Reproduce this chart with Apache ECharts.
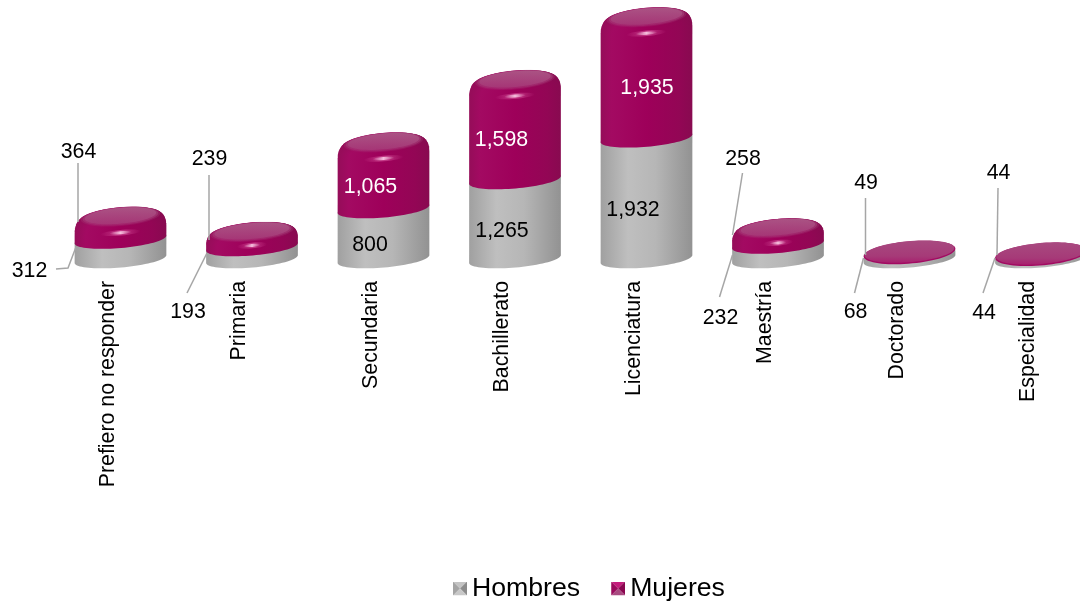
<!DOCTYPE html>
<html><head><meta charset="utf-8">
<style>html,body{margin:0;padding:0;background:#fff}#c{width:1080px;height:604px}</style>
<script src="https://cdn.jsdelivr.net/npm/echarts@6/dist/echarts.min.js"></script>
</head><body><div id="c"></div>
<script>
const categories = ['Prefiero no responder','Primaria','Secundaria','Bachillerato','Licenciatura','Maestría','Doctorado','Especialidad'];
const hombres = [312,193,800,1265,1932,232,68,44];
const mujeres = [364,239,1065,1598,1935,258,49,44];
const seriesNames = ['Hombres','Mujeres'];

// Label placement, in pixels from the foot of each cylinder: text offset, then leader line.
const hombresLabels = [
  {t:[-92,14],l:[[-64.5,13],[-52.5,12],[-44.5,-9]]},
  {t:[-65,55],l:[[-65,37],[-45,-3]]},
  {t:[-14.5,-12]},
  {t:[-14,-26]},
  {t:[-14.5,-47]},
  {t:[-58.5,61],l:[[-58.5,41],[-45.5,-1]]},
  {t:[-55,55],l:[[-55,37],[-46,2]]},
  {t:[-58,56],l:[[-58,37],[-46,2]]}
];
const mujeresLabels = [
  {t:[-43,-105],l:[[-42.5,-93],[-42.5,-34]]},
  {t:[-43.5,-98],l:[[-43,-81],[-43,-16]]},
  {t:[-14,-70]},
  {t:[-14.5,-117]},
  {t:[-0.5,-169]},
  {t:[-36,-98],l:[[-35.5,-83],[-45.5,-21]]},
  {t:[-44.5,-74],l:[[-44,-58],[-44,-1]]},
  {t:[-43.5,-84],l:[[-43,-68],[-44,-1]]}
];

const DEPTH_X = 12.5;         // cylinders stand right of the axis tick
const LABEL_DY = -3;          // label table origin relative to the axis foot
const TILT = 5*Math.PI/180;
const RY = 8.5, RY_CAP = 9.5, RY_FLAT = 11.5;
const fmt = v => v.toLocaleString('en-US');

function ell(cx,cy,a,b,from,to,n){
  const pts=[];
  for(let k=0;k<=n;k++){
    const t=from+(to-from)*k/n;
    const ex=a*Math.cos(t), ey=b*Math.sin(t);
    pts.push([cx+ex*Math.cos(TILT)+ey*Math.sin(TILT), cy-ex*Math.sin(TILT)+ey*Math.cos(TILT)]);
  }
  return pts;
}
function hGrad(stops){return {type:'linear',x:0,y:0,x2:1,y2:0,colorStops:stops.map(s=>({offset:s[0],color:s[1]}))};}
const graySide = hGrad([[0,'#a0a0a0'],[0.3,'#bfbfbf'],[0.6,'#b6b6b6'],[1,'#929292']]);
const magSide = hGrad([[0,'#950d59'],[0.12,'#a30a62'],[0.5,'#9e005a'],[0.85,'#930655'],[1,'#880a50']]);

function polyEl(points,fill,opacity){return {type:'polygon',shape:{points},style:{fill,stroke:null,opacity:opacity==null?1:opacity},silent:true};}

function cylinder(isTop){
  return function(params,api){
    const i=api.value(0), s=api.value(1), e=api.value(2);
    const bot=api.coord([i,s]), top=api.coord([i,e]), foot=api.coord([i,0]);
    const a=api.size([1,0])[0]*0.35;
    const cx=bot[0]+DEPTH_X, yb=bot[1], yt=top[1];
    const h=yb-yt;
    const kids=[];
    if(!isTop){
      kids.push(polyEl(ell(cx,yb,a,RY,0,Math.PI,40).concat(ell(cx,yt,a,RY,Math.PI,2*Math.PI,40)),graySide));
    }else if(h<10){
      kids.push(polyEl(ell(cx,yt+0.8,a,RY_FLAT-0.4,0,2*Math.PI,70),'#a20a62'));
      kids.push(polyEl(ell(cx,yt,a-1,RY_FLAT-1,0,2*Math.PI,70),
        {type:'linear',x:0,y:0,x2:0,y2:1,colorStops:[{offset:0,color:'#a84a80'},{offset:0.7,color:'#a63a78'},{offset:1,color:'#a8206e'}]}));
    }else{
      const bevel=Math.min(12,h*0.6), inset=bevel*0.6;
      const shaft=yt+bevel;
      kids.push(polyEl(ell(cx,yb,a,RY,0,Math.PI,40).concat(ell(cx,shaft,a,RY_CAP,Math.PI,2*Math.PI,40)),magSide));
      const steps=12;
      for(let k=1;k<=steps;k++){
        const ang=k/steps*Math.PI/2;
        kids.push(polyEl(ell(cx,shaft-bevel*Math.sin(ang),a-inset*(1-Math.cos(ang)),RY_CAP,0,2*Math.PI,60),magSide));
      }
      const capFill={type:'linear',x:0,y:0,x2:0,y2:1,colorStops:[{offset:0,color:'#ac5a88'},{offset:1,color:'#a63a78'}]};
      kids.push(polyEl(ell(cx,yt-0.2,a-inset+1,RY_CAP,0,2*Math.PI,60),capFill,0.25));
      kids.push(polyEl(ell(cx,yt-0.5,a-inset-1,RY_CAP-0.7,0,2*Math.PI,60),capFill,0.45));
      kids.push(polyEl(ell(cx,yt-1,a-inset-3,RY_CAP-1.6,0,2*Math.PI,60),capFill,0.8));
      const hy=yt+Math.min(16,h*0.9), rMax=h<20?15:20;
      const glow=(rx,ry,c,al)=>({type:'ellipse',shape:{cx:cx,cy:hy,rx,ry},rotation:TILT,originX:cx,originY:hy,silent:true,
        style:{fill:hGrad([[0,'rgba('+c+',0)'],[0.5,'rgba('+c+','+al+')'],[1,'rgba('+c+',0)']])}});
      kids.push(glow(rMax,2.8,'205,70,145',0.8));
      kids.push(glow(rMax*0.55,1.5,'250,205,230',0.9));
    }
    const L=(isTop?mujeresLabels:hombresLabels)[i];
    const ax=foot[0]+DEPTH_X, ay=foot[1]+LABEL_DY;
    if(L.l){
      kids.push({type:'polyline',shape:{points:L.l.map(p=>[ax+p[0],ay+p[1]])},style:{stroke:'#a6a6a6',lineWidth:1.5,fill:null},silent:true,z2:5});
    }
    const inside=!L.l;
    kids.push({type:'text',x:ax+L.t[0]+1,y:ay+L.t[1]+1,z2:6,silent:true,style:{
      text:fmt(e-s),fill:(isTop&&inside)?'#ffffff':'#000000',font:'21.33px "Liberation Sans",Arial,sans-serif',align:'center',verticalAlign:'middle'}});
    return {type:'group',children:kids};
  };
}
function stackData(lo,hi){return categories.map((c,i)=>[i,lo[i],lo[i]+hi[i]]);}
const zeros=categories.map(()=>0);

const svg=(a,b,c,d)=>"image://data:image/svg+xml,"+encodeURIComponent(
 `<svg xmlns="http://www.w3.org/2000/svg" width="14" height="14"><polygon points="0,0 14,0 7,7" fill="${a}"/><polygon points="14,0 14,14 7,7" fill="${b}"/><polygon points="14,14 0,14 7,7" fill="${c}"/><polygon points="0,14 0,0 7,7" fill="${d}"/></svg>`);

const chart=echarts.init(document.getElementById('c'),null,{renderer:'canvas'});
chart.setOption({
  animation:false,
  backgroundColor:'#ffffff',
  legend:{
    data:[{name:'Hombres',icon:svg('#c4c4c4','#8c8c8c','#c8c8c8','#a4a4a4')},{name:'Mujeres',icon:svg('#c41c7c','#8a0650','#a84a80','#9a0a5c')}],
    left:453,top:575,padding:0,itemWidth:14,itemHeight:14,itemGap:31,
    textStyle:{fontSize:26.67,fontFamily:'"Liberation Sans",Arial,sans-serif',color:'#000'},
    selectedMode:false
  },
  grid:{left:42.25,top:9,width:1052,height:250,containLabel:false,outerBoundsMode:'none'},
  xAxis:{type:'category',data:categories,boundaryGap:true,
    axisLine:{show:false},axisTick:{show:false},
    axisLabel:{rotate:90,margin:22,interval:0,fontSize:21.33,fontFamily:'"Liberation Sans",Arial,sans-serif',color:'#000'}},
  yAxis:{type:'value',min:0,max:4000,show:false,splitLine:{show:false}},
  series:[
    {type:'custom',name:seriesNames[0],coordinateSystem:'cartesian2d',clip:false,renderItem:cylinder(false),encode:{x:0,y:[1,2]},data:stackData(zeros,hombres),itemStyle:{color:'#a6a6a6'}},
    {type:'custom',name:seriesNames[1],coordinateSystem:'cartesian2d',clip:false,renderItem:cylinder(true),encode:{x:0,y:[1,2]},data:stackData(hombres,mujeres),itemStyle:{color:'#9b0058'}}
  ]
});
</script></body></html>
